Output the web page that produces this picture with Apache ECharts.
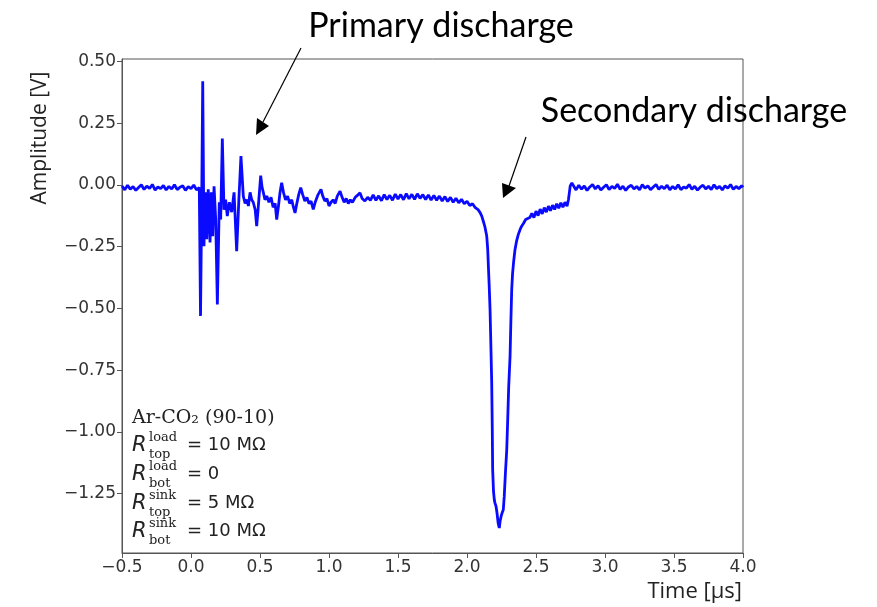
<!DOCTYPE html>
<html><head><meta charset="utf-8">
<script src="https://cdn.jsdelivr.net/npm/echarts@6/dist/echarts.min.js"></script>
<style>html,body{margin:0;padding:0;background:#fff}#c{width:877px;height:607px}</style>
</head><body><div id="c"></div>
<script>
// [time µs, amplitude V]
var baselineBefore = [[-0.50,-0.004],[-0.48,-0.020],[-0.46,-0.001],[-0.44,-0.017],[-0.42,-0.006],[-0.40,-0.022],[-0.38,-0.010],[-0.36,0.001],[-0.34,-0.018],[-0.32,-0.005],[-0.30,-0.014],[-0.28,0.002],[-0.26,-0.021],[-0.24,-0.008],[-0.22,-0.015],[-0.20,-0.002],[-0.18,-0.020],[-0.16,-0.006],[-0.14,-0.016],[-0.12,0.001],[-0.10,-0.019],[-0.08,-0.009],[-0.06,-0.003],[-0.04,-0.022],[-0.02,-0.007],[0.00,-0.015],[0.02,0.000],[0.04,-0.020],[0.06,-0.010]];
var primaryDischarge = [[0.065,-0.012],[0.069,-0.53],[0.077,-0.10],[0.085,0.42],[0.094,-0.248],[0.104,-0.03],[0.114,-0.22],[0.125,-0.018],[0.138,-0.233],[0.147,-0.03],[0.157,-0.207],[0.167,-0.005],[0.179,-0.14],[0.191,-0.484],[0.205,-0.07],[0.215,-0.14],[0.227,0.188],[0.239,-0.10],[0.251,-0.059],[0.263,-0.126],[0.278,-0.07],[0.295,-0.11],[0.312,-0.03],[0.331,-0.268],[0.346,-0.07],[0.362,0.117],[0.379,-0.045],[0.392,-0.075],[0.404,-0.059],[0.416,-0.085],[0.428,-0.03],[0.44,-0.06],[0.451,-0.07],[0.465,-0.10],[0.476,-0.167],[0.486,-0.10],[0.505,0.038],[0.515,-0.01],[0.524,-0.03],[0.536,-0.06],[0.549,-0.045]];
var decay = [[0.565,-0.07],[0.58,-0.05],[0.595,-0.09],[0.61,-0.075],[0.621,-0.14],[0.635,-0.08],[0.645,-0.03],[0.657,0.009],[0.67,-0.03],[0.685,-0.06],[0.70,-0.045],[0.715,-0.075],[0.73,-0.06],[0.742,-0.09],[0.754,-0.113],[0.765,-0.08],[0.78,-0.04],[0.795,-0.011],[0.81,-0.04],[0.825,-0.065],[0.84,-0.05],[0.855,-0.075],[0.87,-0.065],[0.886,-0.099],[0.90,-0.07],[0.92,-0.04],[0.942,-0.018],[0.955,-0.045],[0.97,-0.065],[0.985,-0.055],[1.0,-0.085],[1.015,-0.07],[1.03,-0.06],[1.045,-0.075],[1.06,-0.045],[1.08,-0.025],[1.095,-0.05],[1.11,-0.07],[1.125,-0.055],[1.14,-0.075],[1.155,-0.06],[1.17,-0.07],[1.19,-0.05],[1.21,-0.04],[1.225,-0.032],[1.24,-0.055],[1.26,-0.065],[1.28,-0.05],[1.30,-0.062]];
var plateau = [[1.32,-0.040],[1.34,-0.062],[1.36,-0.044],[1.38,-0.064],[1.40,-0.039],[1.42,-0.059],[1.44,-0.042],[1.46,-0.062],[1.48,-0.037],[1.50,-0.057],[1.52,-0.039],[1.54,-0.060],[1.56,-0.035],[1.58,-0.056],[1.60,-0.038],[1.62,-0.058],[1.64,-0.036],[1.66,-0.054],[1.68,-0.039],[1.70,-0.059],[1.72,-0.040],[1.74,-0.061],[1.76,-0.042],[1.78,-0.062],[1.80,-0.045],[1.82,-0.065],[1.84,-0.047],[1.86,-0.067],[1.88,-0.050],[1.90,-0.070],[1.92,-0.054],[1.94,-0.072],[1.96,-0.058],[1.98,-0.076],[2.00,-0.066],[2.02,-0.083],[2.04,-0.076]];
var secondaryDischarge = [[2.06,-0.092],[2.08,-0.10],[2.095,-0.112],[2.107,-0.126],[2.12,-0.15],[2.13,-0.17],[2.143,-0.207],[2.15,-0.26],[2.155,-0.329],[2.161,-0.41],[2.167,-0.504],[2.173,-0.65],[2.179,-0.80],[2.183,-0.98],[2.186,-1.153],[2.192,-1.24],[2.198,-1.275],[2.203,-1.288],[2.21,-1.30],[2.218,-1.33],[2.226,-1.37],[2.234,-1.389],[2.24,-1.36],[2.248,-1.34],[2.256,-1.325],[2.263,-1.315],[2.27,-1.26],[2.278,-1.17],[2.288,-1.072],[2.295,-0.95],[2.302,-0.82],[2.312,-0.694],[2.318,-0.55],[2.324,-0.423],[2.33,-0.36],[2.338,-0.31],[2.348,-0.261],[2.36,-0.225],[2.372,-0.2],[2.385,-0.18],[2.396,-0.167]];
var recovery = [[2.41,-0.155],[2.425,-0.140],[2.44,-0.136],[2.455,-0.132],[2.47,-0.115],[2.485,-0.132],[2.5,-0.106],[2.515,-0.124],[2.53,-0.098],[2.545,-0.117],[2.56,-0.092],[2.575,-0.110],[2.59,-0.086],[2.605,-0.104],[2.62,-0.082],[2.635,-0.099],[2.65,-0.076],[2.665,-0.094],[2.68,-0.072],[2.695,-0.090],[2.71,-0.070],[2.725,-0.086],[2.735,-0.06],[2.742,-0.03],[2.748,-0.004],[2.76,0.008],[2.775,-0.006]];
var baselineAfter = [[2.79,-0.020],[2.81,-0.001],[2.83,-0.017],[2.85,-0.004],[2.87,-0.022],[2.89,-0.008],[2.91,0.002],[2.93,-0.016],[2.95,-0.003],[2.97,-0.020],[2.99,-0.009],[3.01,0.001],[3.03,-0.019],[3.05,-0.006],[3.07,-0.014],[3.09,0.003],[3.11,-0.018],[3.13,-0.005],[3.15,-0.022],[3.17,-0.008],[3.19,-0.001],[3.21,-0.016],[3.23,-0.006],[3.25,-0.020],[3.27,0.001],[3.29,-0.013],[3.31,-0.003],[3.33,-0.019],[3.35,-0.008],[3.37,0.002],[3.39,-0.018],[3.41,-0.005],[3.43,-0.015],[3.45,-0.001],[3.47,-0.020],[3.49,-0.006],[3.51,-0.016],[3.53,0.001],[3.55,-0.019],[3.57,-0.008],[3.59,-0.013],[3.61,0.002],[3.63,-0.018],[3.65,-0.005],[3.67,-0.021],[3.69,-0.009],[3.71,-0.001],[3.73,-0.016],[3.75,-0.005],[3.77,-0.019],[3.79,0.001],[3.81,-0.015],[3.83,-0.006],[3.85,-0.020],[3.87,-0.003],[3.89,-0.013],[3.91,0.002],[3.93,-0.018],[3.95,-0.006],[3.97,-0.015],[3.99,-0.003],[4.0,-0.010]];

var yTicks = [-1.25, -1.0, -0.75, -0.5, -0.25, 0, 0.25, 0.5];
var xTitle = 'Time [μs]';
var yTitle = 'Amplitude [V]';

var trace = [].concat(baselineBefore, primaryDischarge, decay, plateau, secondaryDischarge, recovery, baselineAfter);

function minus(s){ return s.replace('-', '\u2212'); }
var tickFont = 'DejaVu Sans';

function rLine(y, sup, sub, rhs){
  return [
    {type:'text', left:132, top:y-12, style:{text:'R', font:'italic 21px "DejaVu Sans"', fill:'#222'}},
    {type:'text', left:149, top:y-16, style:{text:sup, font:'13px "DejaVu Serif"', fill:'#222'}},
    {type:'text', left:149, top:y+1, style:{text:sub, font:'13px "DejaVu Serif"', fill:'#222'}},
    {type:'text', left:187, top:y-11, style:{text:rhs, font:'18px "DejaVu Sans"', fill:'#222'}}
  ];
}

var graphics = [
  {type:'text', x:441, y:26, style:{text:'Primary discharge', font:'34px Lato', fill:'#000', textAlign:'center', textVerticalAlign:'middle'}},
  {type:'text', x:694, y:111, style:{text:'Secondary discharge', font:'34px Lato', fill:'#000', textAlign:'center', textVerticalAlign:'middle'}},
  {type:'line', shape:{x1:301, y1:48, x2:263, y2:122}, style:{stroke:'#000', lineWidth:1.2}},
  {type:'polygon', shape:{points:[[256,135],[257,118],[269,126]]}, style:{fill:'#000'}},
  {type:'line', shape:{x1:526, y1:137, x2:509, y2:186}, style:{stroke:'#000', lineWidth:1.2}},
  {type:'polygon', shape:{points:[[503,198],[502,183],[516,188]]}, style:{fill:'#000'}},
  {type:'text', x:40, y:138, rotation:Math.PI/2, style:{text:yTitle, font:'21px "Open Sans"', fill:'#222', textAlign:'center', textVerticalAlign:'middle'}},
  {type:'text', left:132, top:409, style:{text:'Ar-CO\u2082 (90-10)', font:'19px "DejaVu Serif"', fill:'#222'}}
].concat(
  rLine(447, 'load', 'top', '= 10 M\u03a9'),
  rLine(476, 'load', 'bot', '= 0'),
  rLine(505, 'sink', 'top', '= 5 M\u03a9'),
  rLine(533, 'sink', 'bot', '= 10 M\u03a9')
);

var chart = echarts.init(document.getElementById('c'), null, {renderer:'canvas'});
chart.setOption({
  animation:false,
  backgroundColor:'#fff',
  grid:{left:122, right:134, top:59, bottom:54, show:true, borderColor:'#555', borderWidth:1, backgroundColor:'transparent'},
  xAxis:{type:'value', min:-0.5, max:4.0, interval:0.5,
    name:xTitle, nameLocation:'end', nameGap:-1,
    nameTextStyle:{fontFamily:'Open Sans', fontSize:22, color:'#222', align:'right', verticalAlign:'top', padding:[28,0,0,0]},
    axisLine:{show:true, onZero:false, lineStyle:{color:'#555', width:1}},
    axisTick:{show:true, inside:false, length:5, lineStyle:{color:'#555'}},
    axisLabel:{fontFamily:tickFont, fontSize:17, color:'#333', margin:6, formatter:function(v){return minus(v.toFixed(1));}},
    splitLine:{show:false}},
  yAxis:{type:'value', min:-1.49, max:0.51,
    axisLine:{show:true, onZero:false, lineStyle:{color:'#555', width:1}},
    axisTick:{show:true, inside:false, length:5, customValues:yTicks, lineStyle:{color:'#555'}},
    axisLabel:{fontFamily:tickFont, fontSize:17, color:'#333', margin:6, customValues:yTicks, formatter:function(v){return minus(v.toFixed(2));}},
    splitLine:{show:false}},
  graphic:graphics,
  series:[{type:'line', data:trace, showSymbol:false, symbol:'none', clip:true,
    lineStyle:{color:'#0a0aff', width:2.8}, itemStyle:{color:'#0a0aff'}}]
});
</script></body></html>
